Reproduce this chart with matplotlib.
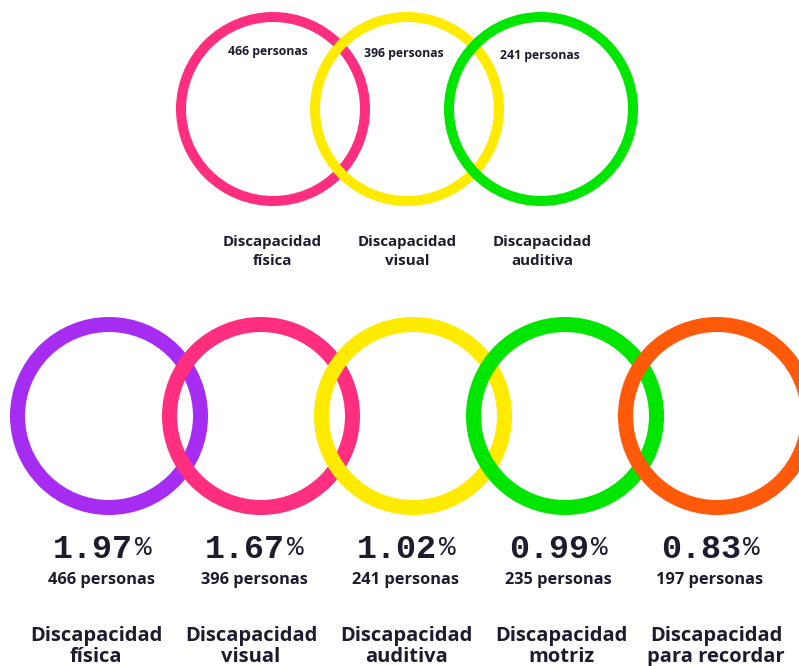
import matplotlib
matplotlib.use("Agg")
import matplotlib.pyplot as plt
from matplotlib.patches import Circle

# ---- data ----
top_categories = ["Discapacidad\nfísica", "Discapacidad\nvisual", "Discapacidad\nauditiva"]
top_persons = [466, 396, 241]
top_colors = ["#ff2e7e", "#ffeb00", "#00e600"]

bottom_categories = ["Discapacidad\nfísica", "Discapacidad\nvisual", "Discapacidad\nauditiva",
                     "Discapacidad\nmotriz", "Discapacidad\npara recordar"]
bottom_percent = ["1.97", "1.67", "1.02", "0.99", "0.83"]
bottom_persons = [466, 396, 241, 235, 197]
bottom_colors = ["#a62cf2", "#ff2e7e", "#ffeb00", "#00e600", "#ff5a0a"]

W, H = 799, 666
DPI = 100
TXT = "#1c1c2e"
FONT = ["Open Sans", "DejaVu Sans"]
MONO = ["Liberation Mono", "DejaVu Sans Mono"]

fig = plt.figure(figsize=(W / DPI, H / DPI), dpi=DPI)
ax = fig.add_axes([0, 0, 1, 1])
ax.set_xlim(0, W)
ax.set_ylim(H, 0)
ax.set_aspect("equal")
ax.axis("off")

px = 72.0 / DPI  # points per pixel

# ---- top row ----
top_x0, top_dx, top_y, top_r, top_w = 273, 134, 109, 92, 10
for i, (cat, n, col) in enumerate(zip(top_categories, top_persons, top_colors)):
    cx = top_x0 + i * top_dx
    ax.add_patch(Circle((cx, top_y), top_r, fill=False, edgecolor=col,
                        linewidth=top_w * px, zorder=2 + i))
    ax.text(cx - 5 + i * 2, top_y - 58 + i * 2, f"{n} personas", ha="center", va="center",
            fontsize=8.8, fontweight="bold", color=TXT, family=FONT, zorder=10)
    l1, l2 = cat.split("\n")
    ax.text(cx - 1 + i * 1, 242, l1, ha="center", va="center", fontsize=10.8,
            fontweight="bold", color=TXT, family=FONT, zorder=10)
    ax.text(cx - 1 + i * 1, 261, l2, ha="center", va="center", fontsize=10.8,
            fontweight="bold", color=TXT, family=FONT, zorder=10)

# ---- bottom row ----
bx0, bdx, by, br, bw = 109, 152, 416, 91.5, 15
for i, (cat, pct, n, col) in enumerate(zip(bottom_categories, bottom_percent,
                                           bottom_persons, bottom_colors)):
    cx = bx0 + i * bdx
    ax.add_patch(Circle((cx, by), br, fill=False, edgecolor=col,
                        linewidth=bw * px, zorder=2 + i))
    tc = cx - 7
    ax.text(tc + 31, 549, pct, ha="right", va="center", fontsize=24, fontweight="bold",
            color=TXT, family=MONO, zorder=10)
    ax.text(tc + 33, 548, "%", ha="left", va="center", fontsize=20,
            color=TXT, family=MONO, zorder=10)
    ax.text(tc, 580, f"{n} personas", ha="center", va="center", fontsize=11.8,
            fontweight="bold", color=TXT, family=FONT, zorder=10)
    l1, l2 = cat.split("\n")
    ax.text(cx - 13 + i * 3, 636, l1, ha="center", va="center", fontsize=14.5,
            fontweight="bold", color=TXT, family=FONT, zorder=10)
    ax.text(cx - 13 + i * 3, 657, l2, ha="center", va="center", fontsize=14.5,
            fontweight="bold", color=TXT, family=FONT, zorder=10)

fig.savefig("out.png", dpi=DPI)
